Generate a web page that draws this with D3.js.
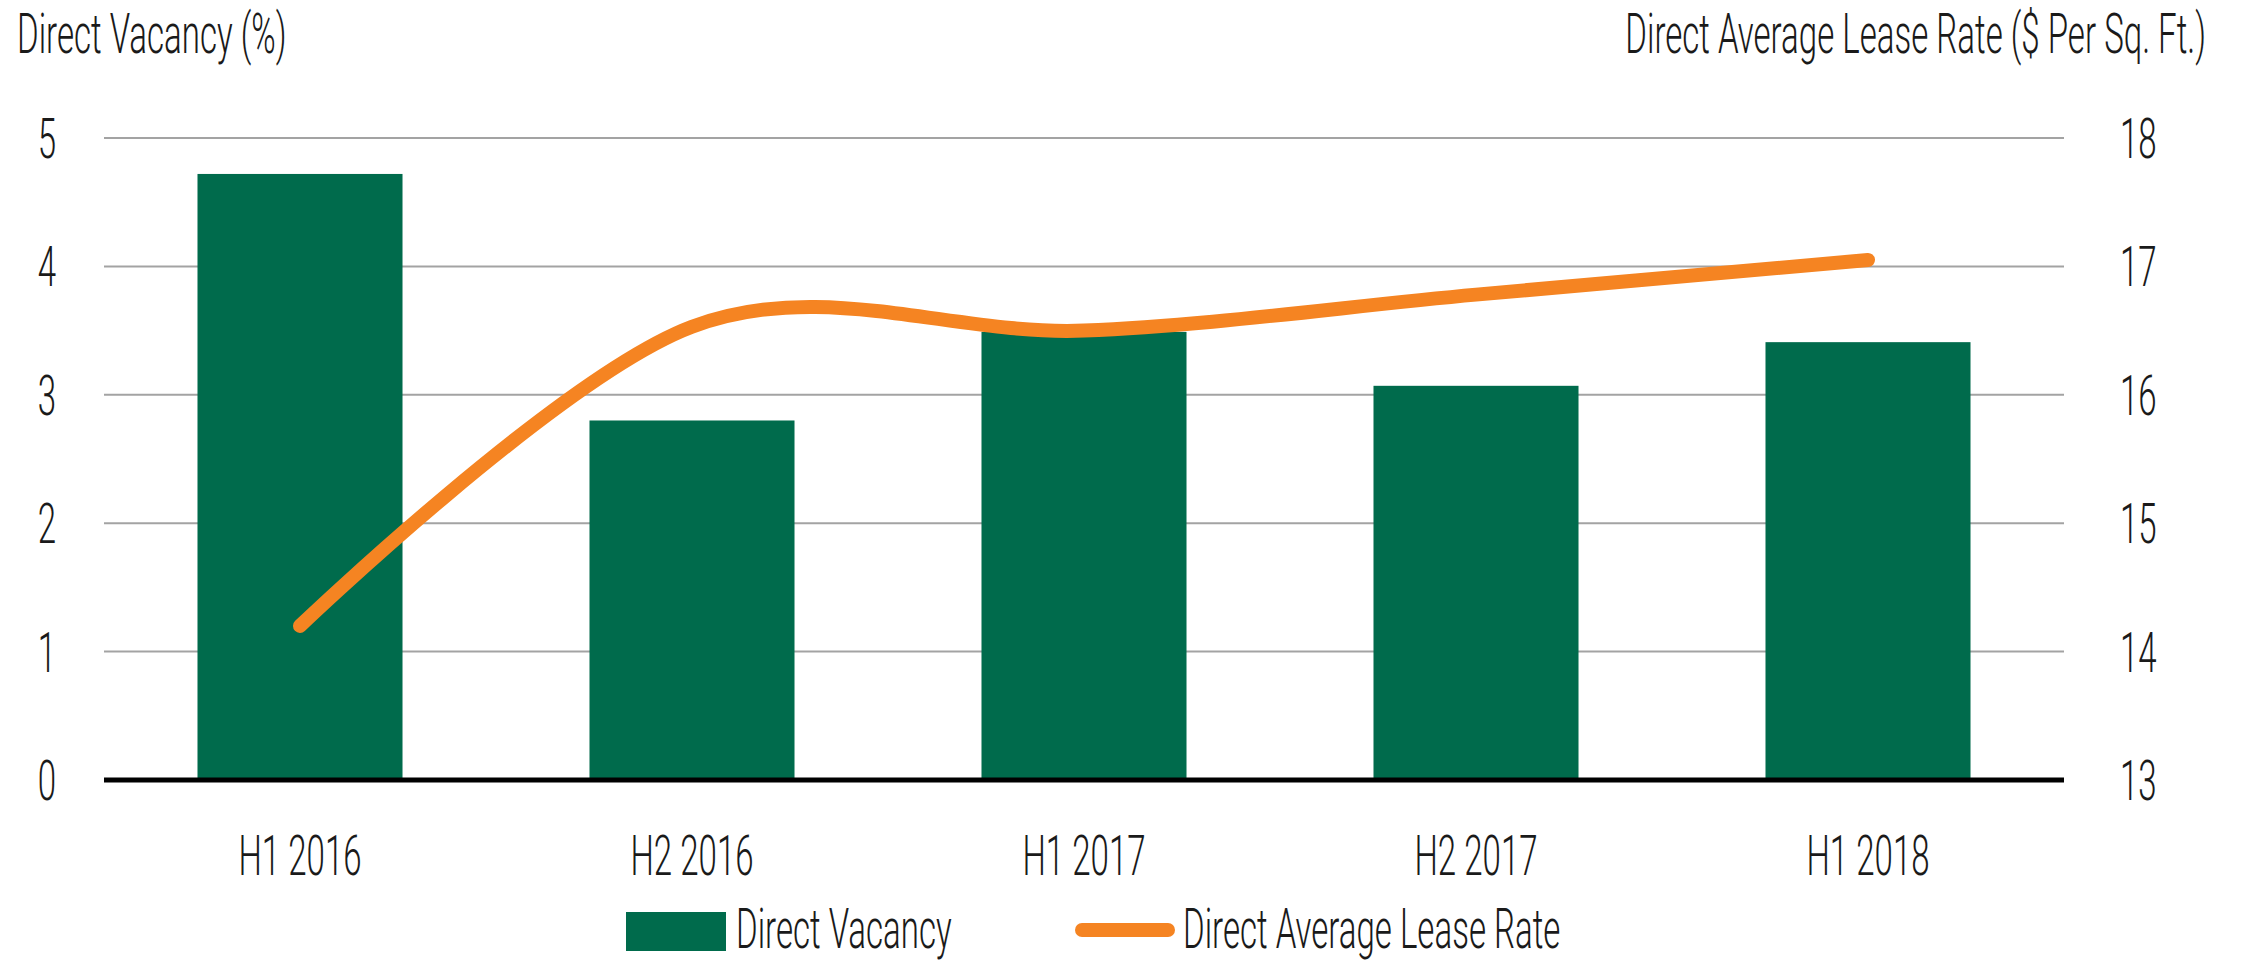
<!DOCTYPE html>
<html>
<head>
<meta charset="utf-8">
<script src="https://cdn.jsdelivr.net/npm/d3@7"></script>
<style>
body { margin: 0; background: #fff; }
text { font-family: Roboto, sans-serif; font-weight: 300; fill: #1a1a1a; }
</style>
</head>
<body>
<svg width="2242" height="960"></svg>
<script>
var periods = ["H1 2016", "H2 2016", "H1 2017", "H2 2017", "H1 2018"];
var vacancy = [4.72, 2.80, 3.49, 3.07, 3.41];
var leaseRate = [14.2, 16.53, 16.50, 16.78, 17.05];
var vacancyTicks = [0, 1, 2, 3, 4, 5];
var rateTicks = [13, 14, 15, 16, 17, 18];

var svg = d3.select("svg"),
    plotLeft = 104, plotRight = 2064, plotTop = 138, plotBottom = 780,
    fontSize = 56, squeeze = 0.59,
    green = "#006b4c", orange = "#f58422";

var x = d3.scaleBand().domain(periods).range([plotLeft, plotRight]).paddingInner(0.477).paddingOuter(0.2385),
    y = d3.scaleLinear().domain([0, 5]).range([plotBottom, plotTop]),
    y2 = d3.scaleLinear().domain([13, 18]).range([plotBottom, plotTop]);

// squeezed text, the original uses a condensed face
function label(g, txt, px, py, anchor) {
  return g.append("text")
    .attr("transform", "translate(" + px + "," + py + ") scale(" + squeeze + ",1)")
    .attr("text-anchor", anchor)
    .style("font-size", fontSize + "px")
    .text(txt);
}

// grid
svg.append("g").selectAll("line")
  .data(vacancyTicks.slice(1))
  .enter().append("line")
  .attr("x1", plotLeft).attr("x2", plotRight)
  .attr("y1", function(d) { return y(d); })
  .attr("y2", function(d) { return y(d); })
  .attr("stroke", "#a3a3a3")
  .attr("stroke-width", 2);

// bars
svg.append("g").selectAll("rect")
  .data(periods)
  .enter().append("rect")
  .attr("x", function(d) { return x(d); })
  .attr("width", x.bandwidth())
  .attr("y", function(d, i) { return y(vacancy[i]); })
  .attr("height", function(d, i) { return y(0) - y(vacancy[i]); })
  .attr("fill", green);

// baseline
svg.append("line")
  .attr("x1", plotLeft).attr("x2", plotRight)
  .attr("y1", y(0)).attr("y2", y(0))
  .attr("stroke", "#000")
  .attr("stroke-width", 5);

// lease rate line
var rateLine = d3.line()
  .curve(d3.curveCardinal.tension(0))
  .x(function(d, i) { return x(periods[i]) + x.bandwidth() / 2; })
  .y(function(d) { return y2(d); });

svg.append("path")
  .attr("d", rateLine(leaseRate))
  .attr("fill", "none")
  .attr("stroke", orange)
  .attr("stroke-width", 14)
  .attr("stroke-linecap", "round")
  .attr("stroke-linejoin", "round");

// axis labels
var axes = svg.append("g");
vacancyTicks.forEach(function(t) {
  label(axes, t, 56, y(t) + 20, "end");
});
rateTicks.forEach(function(t) {
  label(axes, t, 2120, y2(t) + 20, "start");
});
periods.forEach(function(p) {
  label(axes, p, x(p) + x.bandwidth() / 2, 875, "middle");
});

label(svg, "Direct Vacancy (%)", 17, 53, "start");
label(svg, "Direct Average Lease Rate ($ Per Sq. Ft.)", 2206, 53, "end");

// legend
var legend = svg.append("g");
legend.append("rect")
  .attr("x", 626).attr("y", 912)
  .attr("width", 100).attr("height", 39)
  .attr("fill", green);
label(legend, "Direct Vacancy", 736, 948, "start");
legend.append("line")
  .attr("x1", 1082).attr("x2", 1168)
  .attr("y1", 930).attr("y2", 930)
  .attr("stroke", orange)
  .attr("stroke-width", 14)
  .attr("stroke-linecap", "round");
label(legend, "Direct Average Lease Rate", 1183, 948, "start");
</script>
</body>
</html>
